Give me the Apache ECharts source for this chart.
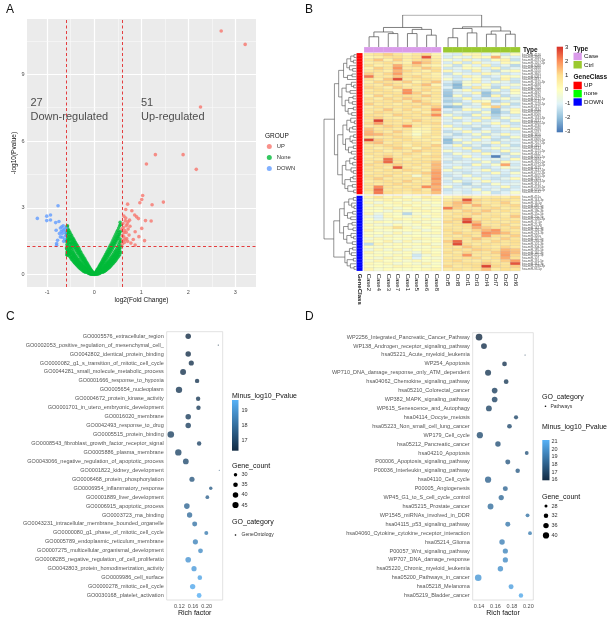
<!DOCTYPE html>
<html><head><meta charset="utf-8">
<script src="https://cdn.jsdelivr.net/npm/echarts@6/dist/echarts.min.js"></script>
<style>html,body{margin:0;padding:0;background:#fff}#c{width:607px;height:620px}</style>
</head><body><div id="c"></div>
<script>
// ================= Panel A : volcano =================
const volcanoXRange = [-1.43, 3.44];
const volcanoYRange = [-0.55, 11.48];
const volcanoXTicks = [-1, 0, 1, 2, 3];
const volcanoYTicks = [0, 3, 6, 9];
const volcanoXMinor = [-0.5, 0.5, 1.5, 2.5];
const volcanoYMinor = [1.5, 4.5, 7.5, 10.5];
const fcThreshold = [-0.585, 0.585];
const pThreshold = 1.301;
const upPoints = [[2.70,10.94],[3.21,10.34],[2.26,7.53],[1.30,5.39],[1.89,5.39],[1.11,4.97],[2.17,4.73],[1.03,3.56],[1.01,3.38],[0.97,3.23],[1.47,3.26],[1.23,3.14],[0.71,3.17],[0.80,2.87],[0.67,2.93],[0.86,2.68],[0.63,2.63],[0.90,2.60],[0.94,2.52],[1.09,2.43],[1.21,2.41],[0.75,2.45],[0.72,2.38],[0.66,2.42],[0.70,2.28],[0.68,2.20],[0.62,2.12],[0.76,2.18],[0.72,2.05],[0.65,1.98],[0.60,1.75],[0.63,1.70],[0.83,1.58],[0.68,1.90],[0.87,1.33],[1.07,1.53],[0.78,1.42],[0.61,1.55],[0.64,1.45],[0.69,1.62],[0.74,1.78],[0.61,2.30],[0.59,2.05],[0.66,1.58],[0.60,1.38],[0.71,1.50],[0.63,1.88],[0.67,2.55],[0.87,1.93],[0.95,1.71],[1.01,2.08]];
const downPoints = [[-1.21,2.53],[-1.01,2.63],[-0.93,2.68],[-0.93,2.46],[-1.01,2.43],[-0.77,3.10],[-0.82,2.34],[-0.75,2.39],[-0.81,2.00],[-0.72,2.10],[-0.69,2.15],[-0.66,2.20],[-0.70,1.95],[-0.74,1.85],[-0.68,1.85],[-0.64,2.05],[-0.72,1.70],[-0.68,1.68],[-0.78,1.55],[-0.80,1.40],[-0.62,1.90],[-0.63,1.60],[-0.65,1.50],[-0.61,1.75],[-0.66,2.00],[-0.60,2.10],[-0.80,1.32]];
const nonePoints = [
[-0.58,2.15],[-0.58,1.95],[-0.58,1.75],[-0.58,1.55],[-0.58,1.35],[-0.58,1.15],[-0.58,0.98],[-0.57,2.2],[-0.57,1.62],[-0.57,1.05],
[-0.56,2.05],[-0.56,1.8],[-0.56,1.55],[-0.56,1.3],[-0.56,1.05],[-0.55,1.9],[-0.55,1.42],[-0.55,0.95],
[-0.54,1.98],[-0.54,1.7],[-0.54,1.45],[-0.54,1.2],[-0.54,0.9],[-0.53,1.58],[-0.53,1.1],
[-0.52,1.9],[-0.52,1.6],[-0.52,1.35],[-0.52,1.05],[-0.52,0.82],[-0.51,1.72],[-0.51,1.2],[-0.51,0.95],
[-0.50,1.82],[-0.50,1.55],[-0.50,1.25],[-0.50,0.95],[-0.50,0.76],[-0.49,1.4],[-0.49,1.02],
[-0.48,1.75],[-0.48,1.45],[-0.48,1.15],[-0.48,0.88],[-0.48,0.7],[-0.47,1.6],[-0.47,1.25],[-0.47,0.78],
[-0.46,1.66],[-0.46,1.38],[-0.46,1.08],[-0.46,0.82],[-0.46,0.65],[-0.45,1.5],[-0.45,0.95],
[-0.44,1.6],[-0.44,1.3],[-0.44,1.0],[-0.44,0.75],[-0.44,0.6],[-0.43,1.42],[-0.43,0.86],
[-0.42,1.52],[-0.42,1.22],[-0.42,0.92],[-0.42,0.68],[-0.42,0.54],[-0.41,1.35],[-0.41,0.78],
[-0.40,1.45],[-0.40,1.15],[-0.40,0.85],[-0.40,0.6],[-0.40,0.5],[-0.39,1.25],[-0.39,0.7],
[-0.38,1.37],[-0.38,1.08],[-0.38,0.8],[-0.38,0.56],[-0.38,0.45],[-0.37,1.18],[-0.37,0.64],
[-0.36,1.3],[-0.36,1.0],[-0.36,0.72],[-0.36,0.5],[-0.36,0.41],[-0.35,1.12],[-0.35,0.6],
[-0.34,1.22],[-0.34,0.95],[-0.34,0.68],[-0.34,0.45],[-0.34,0.36],[-0.33,1.05],[-0.33,0.55],
[-0.32,1.15],[-0.32,0.88],[-0.32,0.62],[-0.32,0.42],[-0.32,0.32],[-0.31,0.98],[-0.31,0.5],
[-0.30,1.05],[-0.30,0.8],[-0.30,0.57],[-0.30,0.38],[-0.30,0.28],[-0.29,0.9],[-0.29,0.46],
[-0.28,0.98],[-0.28,0.74],[-0.28,0.52],[-0.28,0.34],[-0.28,0.25],[-0.27,0.84],[-0.27,0.42],
[-0.26,0.9],[-0.26,0.68],[-0.26,0.48],[-0.26,0.3],[-0.26,0.21],[-0.25,0.77],[-0.25,0.38],
[-0.24,0.84],[-0.24,0.62],[-0.24,0.42],[-0.24,0.26],[-0.24,0.18],[-0.23,0.7],[-0.23,0.34],
[-0.22,0.76],[-0.22,0.56],[-0.22,0.38],[-0.22,0.22],[-0.22,0.15],[-0.21,0.64],[-0.21,0.3],
[-0.20,0.7],[-0.20,0.5],[-0.20,0.33],[-0.20,0.2],[-0.20,0.13],[-0.19,0.58],[-0.19,0.26],
[-0.18,0.62],[-0.18,0.44],[-0.18,0.28],[-0.18,0.16],[-0.18,0.11],[-0.17,0.5],[-0.17,0.22],
[-0.16,0.55],[-0.16,0.38],[-0.16,0.24],[-0.16,0.13],[-0.15,0.45],[-0.15,0.19],
[-0.14,0.48],[-0.14,0.32],[-0.14,0.2],[-0.14,0.09],[-0.13,0.38],[-0.13,0.15],
[-0.12,0.4],[-0.12,0.27],[-0.12,0.16],[-0.12,0.07],[-0.11,0.3],[-0.11,0.11],
[-0.10,0.33],[-0.10,0.22],[-0.10,0.12],[-0.10,0.05],[-0.09,0.25],[-0.09,0.08],
[-0.08,0.26],[-0.08,0.17],[-0.08,0.09],[-0.08,0.03],[-0.07,0.19],[-0.07,0.06],
[-0.06,0.2],[-0.06,0.12],[-0.06,0.06],[-0.06,0.02],[-0.05,0.14],[-0.05,0.04],
[-0.04,0.13],[-0.04,0.08],[-0.04,0.03],[-0.03,0.09],[-0.03,0.02],[-0.02,0.07],[-0.02,0.03],[-0.01,0.03],[0.0,0.01],
[-0.59,1.2],[-0.59,1.5],[-0.59,1.85],[-0.58,0.9],[-0.57,0.88],
[0.01,0.03],[0.02,0.06],[0.02,0.02],[0.03,0.1],[0.03,0.04],[0.04,0.14],[0.04,0.08],[0.04,0.03],[0.05,0.16],[0.05,0.05],
[0.06,0.22],[0.06,0.13],[0.06,0.06],[0.06,0.02],[0.07,0.2],[0.07,0.07],[0.08,0.28],[0.08,0.18],[0.08,0.1],[0.08,0.04],[0.09,0.26],[0.09,0.08],
[0.10,0.36],[0.10,0.24],[0.10,0.13],[0.10,0.05],[0.11,0.32],[0.11,0.12],[0.12,0.43],[0.12,0.29],[0.12,0.17],[0.12,0.07],[0.13,0.4],[0.13,0.15],
[0.14,0.5],[0.14,0.34],[0.14,0.21],[0.14,0.1],[0.15,0.47],[0.15,0.19],[0.16,0.58],[0.16,0.4],[0.16,0.25],[0.16,0.13],[0.17,0.53],[0.17,0.23],
[0.18,0.66],[0.18,0.47],[0.18,0.3],[0.18,0.17],[0.18,0.11],[0.19,0.6],[0.19,0.27],[0.20,0.74],[0.20,0.53],[0.20,0.35],[0.20,0.21],[0.20,0.14],[0.21,0.67],[0.21,0.3],
[0.22,0.82],[0.22,0.6],[0.22,0.4],[0.22,0.24],[0.22,0.16],[0.23,0.74],[0.23,0.35],[0.24,0.9],[0.24,0.66],[0.24,0.45],[0.24,0.28],[0.24,0.19],[0.25,0.82],[0.25,0.4],
[0.26,0.97],[0.26,0.72],[0.26,0.5],[0.26,0.32],[0.26,0.22],[0.27,0.88],[0.27,0.44],[0.28,1.05],[0.28,0.79],[0.28,0.55],[0.28,0.36],[0.28,0.26],[0.29,0.95],[0.29,0.48],
[0.30,1.13],[0.30,0.86],[0.30,0.6],[0.30,0.4],[0.30,0.29],[0.31,1.02],[0.31,0.52],[0.32,1.22],[0.32,0.93],[0.32,0.66],[0.32,0.44],[0.32,0.33],[0.33,1.1],[0.33,0.57],
[0.34,1.3],[0.34,1.0],[0.34,0.72],[0.34,0.48],[0.34,0.37],[0.35,1.18],[0.35,0.62],[0.36,1.38],[0.36,1.07],[0.36,0.78],[0.36,0.53],[0.36,0.42],[0.37,1.25],[0.37,0.67],
[0.38,1.47],[0.38,1.15],[0.38,0.84],[0.38,0.58],[0.38,0.47],[0.39,1.33],[0.39,0.72],[0.40,1.56],[0.40,1.22],[0.40,0.9],[0.40,0.63],[0.40,0.51],[0.41,1.4],[0.41,0.78],
[0.42,1.65],[0.42,1.3],[0.42,0.97],[0.42,0.68],[0.42,0.56],[0.43,1.48],[0.43,0.84],[0.44,1.74],[0.44,1.38],[0.44,1.04],[0.44,0.74],[0.44,0.61],[0.45,1.56],[0.45,0.9],
[0.46,1.83],[0.46,1.46],[0.46,1.1],[0.46,0.8],[0.46,0.66],[0.47,1.65],[0.47,0.96],[0.48,1.92],[0.48,1.55],[0.48,1.18],[0.48,0.86],[0.48,0.72],[0.49,1.72],[0.49,1.02],
[0.50,2.0],[0.50,1.62],[0.50,1.26],[0.50,0.93],[0.50,0.78],[0.51,1.8],[0.51,1.1],[0.52,2.1],[0.52,1.72],[0.52,1.35],[0.52,1.0],[0.52,0.84],[0.53,1.9],[0.53,1.18],
[0.54,2.2],[0.54,1.82],[0.54,1.45],[0.54,1.08],[0.54,0.9],[0.55,2.35],[0.55,1.6],[0.55,1.2],[0.56,2.25],[0.56,1.95],[0.56,1.5],[0.56,1.0],[0.56,1.3]];

// ================= Panel B : heatmap =================
const caseNames = ['Case2','Case4','Case3','Case7','Case1','Case5','Case6','Case8'];
const ctrlNames = ['Ctrl5','Ctrl8','Ctrl1','Ctrl3','Ctrl4','Ctrl7','Ctrl2','Ctrl6'];
const upNames = ['hsa-miR-4516','hsa-miR-3960','hsa-miR-4787-5p','hsa-miR-1207-5p','hsa-miR-6088','hsa-miR-4466','hsa-miR-5100','hsa-miR-3665','hsa-miR-6087','hsa-miR-4497','hsa-miR-1915-3p','hsa-miR-4488','hsa-miR-7704','hsa-miR-6090','hsa-miR-4492','hsa-miR-3196','hsa-miR-6727-5p','hsa-miR-4739','hsa-miR-1228-5p','hsa-miR-6125','hsa-miR-4634','hsa-miR-6089','hsa-miR-8069','hsa-miR-1343-3p','hsa-miR-4741','hsa-miR-6800-5p','hsa-miR-4530','hsa-miR-4286','hsa-miR-5787','hsa-miR-3656','hsa-miR-4508','hsa-miR-6869-5p','hsa-miR-7107-5p','hsa-miR-4463','hsa-miR-6131','hsa-miR-1225-5p','hsa-miR-4442','hsa-miR-6765-5p','hsa-miR-4484','hsa-miR-3162-5p','hsa-miR-6724-5p','hsa-miR-4675','hsa-miR-1237-5p','hsa-miR-6722-3p','hsa-miR-4655-5p','hsa-miR-7975','hsa-miR-6803-5p','hsa-miR-3141','hsa-miR-4749-5p','hsa-miR-6756-5p','hsa-miR-4532'];
const downNames = ['hsa-miR-451a','hsa-miR-144-3p','hsa-miR-16-5p','hsa-miR-486-5p','hsa-miR-92a-3p','hsa-miR-19b-3p','hsa-miR-15a-5p','hsa-miR-20a-5p','hsa-miR-106a-5p','hsa-miR-17-5p','hsa-miR-25-3p','hsa-miR-142-3p','hsa-miR-126-3p','hsa-miR-223-3p','hsa-miR-320a','hsa-miR-150-5p','hsa-miR-26a-5p','hsa-miR-101-3p','hsa-miR-30d-5p','hsa-miR-185-5p','hsa-miR-140-3p','hsa-miR-425-5p','hsa-miR-107','hsa-miR-191-5p','hsa-miR-342-3p','hsa-miR-103a-3p','hsa-miR-93-5p'];
const upCase = [
[0.6,0.9,1.2,0.8,0.4,0.7,1.0,0.3],[0.3,0.5,0.9,1.0,0.6,0.8,2.6,0.5],[0.8,1.3,0.4,1.2,0.5,0.9,1.1,0.6],[0.5,0.7,1.0,0.6,0.4,1.8,1.3,0.8],
[1.0,0.4,0.6,1.6,0.8,1.2,0.5,0.3],[0.4,1.2,0.8,1.9,0.6,0.7,1.3,0.9],[0.7,0.9,0.5,1.5,1.1,0.8,0.4,1.0],[1.2,0.6,1.1,1.8,0.7,0.5,0.9,0.4],
[2.2,0.8,0.7,1.3,0.9,1.1,0.6,0.5],[0.9,0.5,1.3,2.7,0.6,0.8,1.0,0.7],[0.5,1.1,0.9,0.7,1.2,0.4,0.8,1.3],[0.8,0.6,1.2,0.9,0.5,1.0,1.4,0.3],
[1.1,0.9,0.5,1.2,0.8,0.6,0.9,1.0],[0.6,1.0,0.8,0.5,1.9,0.7,1.1,0.6],[0.9,0.7,1.0,0.8,2.0,1.2,0.5,0.9],[0.4,1.2,0.6,1.0,0.9,0.8,1.3,0.7],
[1.0,0.5,1.1,0.7,1.3,1.0,0.6,0.8],[0.7,0.9,0.8,1.1,0.6,1.4,0.9,0.5],[1.2,0.6,0.9,0.5,1.0,0.7,1.2,1.0],[0.5,1.0,0.7,0.9,0.8,1.1,0.6,1.2],
[0.8,0.7,1.3,0.6,1.1,0.5,0.9,1.9],[0.6,1.1,0.9,0.8,0.7,1.0,0.5,1.2],[1.0,0.8,0.6,1.2,0.9,0.7,1.1,2.0],[0.9,1.2,0.7,0.5,1.0,0.8,0.6,0.9],
[0.7,2.8,1.0,0.9,0.6,1.2,0.8,0.7],[1.1,1.8,0.8,0.7,1.0,0.6,0.9,1.1],[0.6,0.9,1.2,1.0,2.0,0.8,0.5,0.7],[1.3,0.7,0.9,0.6,0.8,0.2,0.4,1.0],
[1.5,1.0,0.6,1.2,0.7,0.1,0.3,0.8],[1.6,1.5,1.1,0.8,0.5,-0.2,0.6,0.9],[0.8,0.6,0.7,1.1,0.9,0.4,0.8,0.5],[2.8,1.2,0.9,0.7,1.0,0.6,0.5,0.9],
[1.2,1.4,0.6,1.0,0.7,0.9,0.8,0.4],[0.6,0.8,1.1,0.9,0.4,1.0,0.7,1.2],[0.9,0.5,0.8,1.2,1.0,0.3,1.1,0.8],[0.7,1.0,0.5,0.8,0.6,1.2,0.9,1.0],
[1.0,0.7,0.9,0.6,1.1,0.8,0.4,0.9],[0.5,0.9,1.2,0.7,0.8,0.6,1.0,1.1],[0.8,0.6,2.3,1.0,0.5,0.9,0.7,0.8],[0.6,1.1,2.4,0.8,0.9,0.7,1.0,1.3],
[1.1,0.8,0.9,1.2,0.7,1.0,0.6,1.5],[0.7,1.0,0.6,2.6,0.8,0.5,0.9,1.4],[0.9,0.6,1.0,0.7,1.1,0.9,0.5,1.6],[0.6,0.9,0.7,1.0,0.5,0.8,1.2,1.8],
[1.0,0.7,1.1,0.6,0.9,-0.3,0.8,1.7],[0.8,1.2,0.6,0.9,0.7,1.0,0.6,1.9],[0.5,0.8,1.0,0.7,1.2,0.6,0.9,1.6],[0.9,0.6,0.8,1.1,0.6,0.9,0.7,1.8],
[0.7,2.0,0.9,0.6,1.0,0.7,2.0,1.5],[1.0,2.4,0.7,0.9,0.8,1.1,0.6,1.7],[0.6,2.2,1.0,0.8,0.6,0.9,0.8,1.4]];
const upCtrl = [
[-0.9,-1.1,0.2,0.3,-1.0,-0.2,-1.2,0.1],[-1.1,-0.3,-0.9,0.2,0.1,1.6,-0.4,-1.0],[-0.2,-1.0,0.3,-0.9,-1.2,0.1,0.4,-1.3],[-1.1,0.2,-1.2,0.3,-0.8,-1.0,0.2,-0.2],
[-0.3,-1.3,-0.2,-1.0,0.3,-1.2,-0.8,-1.5],[-1.2,-0.8,0.1,-0.2,-1.1,0.2,-1.3,-0.9],[0.2,-1.0,-1.2,0.4,-0.8,-1.4,-0.3,0.1],[-1.3,-0.2,-0.9,-1.1,0.2,-0.5,-1.2,-1.0],
[-0.8,-1.2,0.3,-0.3,-1.3,-1.0,0.1,-0.2],[-0.2,-1.1,-1.0,0.1,-0.9,-1.3,0.4,-1.2],[-1.1,-1.6,-0.3,0.3,-1.0,-0.2,-0.8,-1.3],[-1.4,-2.1,-0.2,-0.9,0.1,-1.2,-1.0,-0.3],
[-1.0,-2.0,-1.2,0.6,-0.3,-1.5,0.1,-1.1],[-1.6,-0.8,0.1,-1.1,-1.3,-0.2,-1.2,0.2],[-1.8,-1.1,-0.9,0.2,-1.9,-1.3,-1.0,-0.1],[-1.9,-0.2,-1.3,-1.0,-1.8,0.2,-1.4,-0.8],
[-1.4,-1.2,0.1,-1.2,-0.8,-1.1,-0.2,-1.3],[-1.7,-1.5,-1.0,0.2,-0.1,-1.6,-1.2,-0.8],[-1.2,-0.2,-1.3,-0.8,1.0,-1.0,0.1,-1.4],[-2.0,-1.8,-0.8,-1.1,0.1,1.2,-1.3,-1.0],
[-1.0,-1.3,0.1,-0.2,-1.2,-1.9,-0.8,0.2],[-1.3,-0.8,-1.1,-1.3,-0.2,-2.0,-1.4,0.1],[-0.2,-1.2,-1.4,0.1,-1.1,-1.6,-1.0,-1.2],[-1.1,0.1,-0.9,-1.2,0.2,-1.4,-0.2,-1.0],
[-0.8,-1.3,-1.0,0.2,-1.2,-0.8,-1.3,-0.2],[-1.2,-1.0,-0.2,-1.1,-0.8,0.1,-1.0,-1.3],[0.1,-1.2,-1.3,-0.8,-1.4,-1.0,0.2,-1.1],[-1.0,-0.2,-1.1,-1.5,-1.0,-1.2,-0.8,0.1],
[-1.4,-1.1,0.1,-1.0,-0.2,-1.3,-1.1,-1.2],[-0.8,-1.5,-1.2,-0.2,-1.3,-0.8,0.1,-1.0],[-1.3,-1.0,-0.8,-1.2,0.1,-1.1,-1.4,-0.2],[-2.0,-0.2,-1.1,0.1,-1.0,-1.4,-0.8,-1.2],
[-1.9,-1.3,-0.2,-1.1,-0.8,0.2,-1.2,-1.0],[-1.0,0.1,-1.3,-0.8,-1.5,-1.1,-0.2,-1.4],[-1.2,-1.1,0.2,-1.3,-1.0,-0.2,-1.1,-0.8],[-0.2,-1.0,-1.2,0.3,-1.3,-1.2,0.1,-1.1],
[-1.3,-0.2,-0.8,-1.1,0.1,-1.0,-1.4,-0.2],[-1.1,-1.2,0.1,-1.0,-1.2,-2.8,-0.8,-1.3],[-0.8,-1.3,-1.1,-0.2,-1.0,-0.8,-1.2,0.1],[-1.3,-0.8,-1.0,-1.2,-0.2,-1.3,0.2,-1.0],
[-1.0,-1.1,-1.3,0.1,-1.1,-0.2,1.7,-1.2],[-1.2,-0.2,-0.8,-1.1,-1.3,-1.0,-0.2,-0.8],[-0.2,-1.2,-1.1,-0.8,0.1,-1.2,-1.0,-1.3],[-1.1,-0.8,-1.3,-1.0,-1.2,0.1,-1.1,-0.2],
[-1.3,-1.0,-0.2,-1.2,-0.8,-1.1,-1.3,-1.0],[-0.8,-1.3,-1.0,-0.2,-1.1,-1.3,-0.8,0.1],[-1.2,-0.2,-1.2,-1.0,0.1,-1.0,-1.2,-1.1],[-1.0,-1.1,-1.6,-0.8,-1.3,-0.2,-1.0,-0.8],
[-0.2,-1.2,-0.8,-1.3,-1.0,-1.1,0.1,-1.2],[-1.3,-1.0,-1.1,-0.2,-1.2,-0.8,-1.3,-1.0],[-1.1,-0.8,-1.2,-1.0,-0.2,-1.3,-1.0,-0.2]];
const downCase = [
[0.3,0.8,0.2,0.5,-0.2,0.1,0.6,0.2],[-0.3,0.2,0.4,-0.1,0.3,-0.4,0.1,0.3],[0.2,-0.5,0.1,0.3,-0.2,0.2,-0.3,0.0],[-0.4,0.3,-0.2,0.1,0.4,-0.1,0.2,-0.3],
[0.1,-0.2,0.3,-0.4,0.0,0.3,-0.2,0.2],[-0.2,0.0,-0.5,0.2,-0.3,0.1,0.3,-0.1],[0.3,-0.6,0.1,-0.2,-1.5,-0.3,0.0,0.2],[-0.5,-1.0,0.2,0.0,-0.3,0.2,-0.4,0.1],
[0.0,-0.8,-0.3,0.3,0.1,-0.2,0.2,-0.4],[-0.3,0.2,0.0,-0.5,-0.1,0.3,-0.2,0.0],[0.2,-0.4,-0.6,0.1,-0.3,-0.1,0.3,-0.2],[-0.1,0.1,0.3,1.0,0.2,-0.4,0.0,0.3],
[0.4,-0.3,-0.1,-0.2,0.0,0.2,-0.5,-0.1],[-0.2,0.0,-0.4,0.3,-0.5,-0.2,0.1,0.2],[0.1,-0.5,0.2,-0.3,0.1,0.0,-0.3,-0.4],[-0.4,0.2,-0.2,0.0,-0.2,0.3,0.2,0.0],
[0.2,-0.1,0.4,-0.5,0.3,-0.4,-0.1,0.1],[-1.4,0.3,-0.3,0.2,-0.2,0.1,0.4,-0.3],[0.0,-0.3,0.1,-0.1,0.2,-0.3,-0.2,0.3],[-0.6,0.2,-0.4,0.3,-0.4,0.0,0.1,-0.2],
[0.3,-0.2,0.0,-0.3,0.1,-0.5,0.3,0.0],[-0.2,0.1,-0.3,0.2,-0.1,-1.2,-0.4,0.2],[0.1,-0.4,0.3,-0.2,0.3,-1.0,0.0,-0.3],[-0.3,0.3,-0.1,0.1,-0.3,0.2,-0.2,0.1],
[0.2,-0.1,0.2,-0.4,0.0,-0.3,0.3,-0.2],[-0.1,0.0,-0.2,0.3,0.2,0.1,-0.3,0.0],[0.3,-0.3,0.1,-0.1,-0.2,0.0,0.2,0.3]];
const downCtrl = [
[0.2,0.5,0.8,0.4,0.6,0.7,0.5,1.0],[0.6,0.9,2.6,1.1,0.8,1.0,0.9,0.7],[1.0,1.4,1.8,0.9,0.6,0.8,1.2,0.5],[0.9,1.3,0.7,1.5,1.0,0.6,0.9,1.1],
[2.2,1.2,0.8,0.7,0.9,1.1,0.6,0.8],[0.8,0.6,1.2,0.9,1.3,0.7,1.0,0.6],[0.6,1.0,0.9,1.2,0.7,0.8,0.5,0.9],[0.9,0.7,1.1,0.6,0.8,1.0,0.7,1.3],
[0.7,1.1,2.4,0.8,1.0,0.6,0.9,0.7],[1.1,0.8,2.8,1.4,0.7,0.9,0.6,1.0],[0.6,0.9,1.0,2.0,0.8,0.7,1.1,0.6],[0.8,0.7,0.9,1.6,1.2,0.9,0.8,1.1],
[1.0,0.8,0.6,1.1,1.5,1.9,1.0,0.7],[0.7,1.2,0.9,0.8,2.0,1.8,1.4,0.9],[0.9,0.6,1.1,0.7,1.8,1.0,0.8,1.2],[0.6,1.0,0.8,1.3,0.9,0.7,1.2,0.8],
[1.2,2.4,0.7,0.9,0.6,1.1,0.8,1.0],[0.8,2.7,1.0,0.6,1.0,0.8,0.7,0.9],[0.9,0.7,1.3,1.0,0.8,0.6,1.1,0.7],[0.7,1.0,0.8,1.2,1.1,0.9,1.5,1.3],
[1.0,0.6,1.1,0.8,0.7,1.2,1.7,1.4],[0.6,0.9,1.9,0.7,0.9,0.8,1.8,1.1],[0.8,0.7,0.9,1.1,0.6,1.0,1.6,0.9],[0.9,1.1,0.7,0.6,1.0,0.7,1.2,1.8],
[0.7,0.8,1.0,0.9,1.3,0.9,0.8,2.6],[1.1,0.6,0.8,1.0,2.8,1.1,0.9,1.2],[0.6,0.9,0.7,0.8,1.4,0.6,1.0,0.8]];
// dendrograms: [height, left, right]; leaves are row / column indices
const upTree = [68,
  [55,[40,[30,[18,[8,0,1],[10,2,3]],[22,4,[12,5,6]]],[28,[14,7,8],9]],
      [45,[32,[16,10,[9,11,12]],[20,13,14]],[35,[24,[11,15,16],[13,17,18]],[26,[10,19,20],[15,21,22]]]]],
  [58,[42,[30,[18,23,[7,24,25]],[22,[12,26,27],28]],[34,[20,[9,29,30],[14,31,32]],[25,[10,33,34],[16,35,36]]]],
      [44,[33,[21,[8,37,38],[12,39,40]],[17,41,[10,42,43]]],[36,[19,[11,44,45],46],[27,[13,47,48],[9,49,50]]]]]];
const downTree = [70,
  [52,[38,[24,[10,0,1],[15,2,[8,3,4]]],[28,[12,5,6],[18,7,8]]],
      [40,[26,[14,9,10],[11,11,12]],[30,[17,13,[9,14,15]],[13,16,17]]]],
  [36,[22,[12,18,19],[16,20,21]],[29,[10,22,23],[19,24,[8,25,26]]]]];
const rowRootHeight = 100;
const colTree = [100,
  [61,[47,[32,0,1],[42,2,3]],[55,[42,4,5],[37,6,7]]],
  [63,[58,[29,8,9],[44,10,11]],[50,[40,12,13],[40,14,15]]]];
const heatLegendTicks = [3,2,1,0,-1,-2,-3];

// ================= Panel C : GO enrichment =================
const cTerms = ['GO0005576_extracellular_region','GO0002053_positive_regulation_of_mesenchymal_cell_','GO0042802_identical_protein_binding','GO0000082_g1_s_transition_of_mitotic_cell_cycle','GO0044281_small_molecule_metabolic_process','GO0001666_response_to_hypoxia','GO0005654_nucleoplasm','GO0004672_protein_kinase_activity','GO0001701_in_utero_embryonic_development','GO0016020_membrane','GO0042493_response_to_drug','GO0005515_protein_binding','GO0008543_fibroblast_growth_factor_receptor_signal','GO0005886_plasma_membrane','GO0043066_negative_regulation_of_apoptotic_process','GO0001822_kidney_development','GO0006468_protein_phosphorylation','GO0006954_inflammatory_response','GO0001889_liver_development','GO0006915_apoptotic_process','GO0003723_rna_binding','GO0043231_intracellular_membrane_bounded_organelle','GO0000080_g1_phase_of_mitotic_cell_cycle','GO0005789_endoplasmic_reticulum_membrane','GO0007275_multicellular_organismal_development','GO0008285_negative_regulation_of_cell_proliferatio','GO0042803_protein_homodimerization_activity','GO0009986_cell_surface','GO0000278_mitotic_cell_cycle','GO0030168_platelet_activation'];
const cRich = [0.146,0.234,0.146,0.155,0.131,0.172,0.119,0.175,0.176,0.146,0.146,0.095,0.178,0.117,0.139,0.237,0.157,0.212,0.202,0.142,0.150,0.165,0.199,0.167,0.182,0.146,0.163,0.180,0.159,0.178];
const cCount = [40,26,40,38,43,34,46,34,34,40,40,48,34,46,42,26,38,30,31,41,39,37,32,38,36,41,38,35,39,36];
const cPval = [16.35,16.4,16.45,16.5,16.55,16.6,16.65,16.7,16.75,16.8,16.85,16.9,16.95,17.0,17.15,17.3,17.45,17.6,17.7,17.8,17.95,18.15,18.35,18.55,18.75,18.95,19.1,19.3,19.45,19.6];
const cXTicks = [0.12,0.16,0.20];
const cColorTicks = [17,18,19];
const cSizeLegend = [30,35,40,45];

// ================= Panel D : pathway enrichment =================
const dTerms = ['WP2256_Integrated_Pancreatic_Cancer_Pathway','WP138_Androgen_receptor_signaling_pathway','hsa05221_Acute_myeloid_leukemia','WP254_Apoptosis','WP710_DNA_damage_response_only_ATM_dependent','hsa04062_Chemokine_signaling_pathway','hsa05210_Colorectal_cancer','WP382_MAPK_signaling_pathway','WP615_Senescence_and_Autophagy','hsa04114_Oocyte_meiosis','hsa05223_Non_small_cell_lung_cancer','WP179_Cell_cycle','hsa05212_Pancreatic_cancer','hsa04210_Apoptosis','P00006_Apoptosis_signaling_pathway','P00036_Interleukin_signaling_pathway','hsa04110_Cell_cycle','P00005_Angiogenesis','WP45_G1_to_S_cell_cycle_control','hsa05215_Prostate_cancer','WP1545_miRNAs_involved_in_DDR','hsa04115_p53_signaling_pathway','hsa04060_Cytokine_cytokine_receptor_interaction','hsa05214_Glioma','P00057_Wnt_signaling_pathway','WP707_DNA_damage_response','hsa05220_Chronic_myeloid_leukemia','hsa05200_Pathways_in_cancer','hsa05218_Melanoma','hsa05219_Bladder_cancer'];
const dRich = [0.140,0.146,0.196,0.171,0.151,0.173,0.159,0.159,0.152,0.185,0.177,0.141,0.163,0.198,0.175,0.187,0.151,0.172,0.167,0.154,0.199,0.175,0.202,0.168,0.172,0.172,0.166,0.139,0.179,0.191];
const dCount = [42,38,26,33,39,33,37,37,38,31,33,40,36,30,34,32,40,34,35,38,30,34,30,36,35,35,36,42,34,32];
const dPval = [16.0,16.2,16.3,16.4,16.5,16.6,16.8,16.9,17.0,17.1,17.2,17.3,17.5,17.6,17.8,17.9,18.1,18.3,18.4,18.6,18.8,19.0,19.2,19.3,19.5,19.7,19.9,20.2,20.5,20.8];
const dXTicks = [0.14,0.16,0.18,0.20];
const dColorTicks = [21,20,19,18,17,16];
const dSizeLegend = [28,32,36,40];

// ================= build =================
const FONT = 'Liberation Sans';
const heatColors = ['#4575B4','#91BFDB','#E0F3F8','#FFFFBF','#FEE090','#FC8D59','#D73027'];
const rowGap = 0.75, colGap = 0.24;
const rowTotal = upNames.length + downNames.length + rowGap;
const colTotal = caseNames.length + ctrlNames.length + colGap;

function shiftTree(n, k) { return typeof n === 'number' ? n + k : [n[0], shiftTree(n[1], k), shiftTree(n[2], k)]; }
function layoutTree(n, leafPos, out) {
  if (typeof n === 'number') return { p: leafPos(n), h: 0 };
  const L = layoutTree(n[1], leafPos, out), R = layoutTree(n[2], leafPos, out);
  out.push([[L.p, L.h], [L.p, n[0]], [R.p, n[0]], [R.p, R.h]]);
  return { p: (L.p + R.p) / 2, h: n[0] };
}
const rowSegs = [];
layoutTree([rowRootHeight, upTree, shiftTree(downTree, upNames.length)],
  i => i < upNames.length ? i + 0.5 : i + 0.5 + rowGap, rowSegs);
const colSegs = [];
layoutTree(colTree, i => i < caseNames.length ? i + 0.5 : i + 0.5 + colGap, colSegs);

function heatData(mat) {
  const out = [];
  mat.forEach((row, r) => row.forEach((v, c) => out.push([c, r, v])));
  return out;
}
function sizeFn(cmin, cmax) { return c => 1.1 * (1 + 5 * Math.sqrt(Math.max(0, c - cmin) / (cmax - cmin))); }
const cSize = sizeFn(26, 48), dSize = sizeFn(26, 42);
const fmt2 = v => Number(v).toFixed(2);

const grids = [
  { left: 27, top: 19, width: 229, height: 268, show: false }, // 0 volcano (panel background drawn by graphic rect)
  { left: 364.3, top: 53.3, width: 76.7, height: 140.7 },  // 1
  { left: 443.3, top: 53.3, width: 76.7, height: 140.7 },  // 2
  { left: 364.3, top: 196, width: 76.7, height: 74.7 },    // 3
  { left: 443.3, top: 196, width: 76.7, height: 74.7 },    // 4
  { left: 356.8, top: 53.3, width: 5.5, height: 140.7 },   // 5 geneclass up
  { left: 356.8, top: 196, width: 5.5, height: 74.7 },     // 6 geneclass down
  { left: 364.3, top: 47.3, width: 76.7, height: 5 },      // 7 type case
  { left: 443.3, top: 47.3, width: 76.7, height: 5 },      // 8 type ctrl
  { left: 324, top: 53.3, width: 32.6, height: 217.4 },    // 9 row dendro
  { left: 364.3, top: 15, width: 155.7, height: 32 },      // 10 col dendro
  { left: 166.7, top: 331.7, width: 56, height: 268.3, show: true, backgroundColor: '#fff', borderColor: '#D9D9D9', borderWidth: 0.8 }, // 11 C
  { left: 472.7, top: 332.7, width: 60.6, height: 267.3, show: true, backgroundColor: '#fff', borderColor: '#D9D9D9', borderWidth: 0.8 } // 12 D
];
const hidCat = (g, data, inv) => ({ type: 'category', gridIndex: g, data, inverse: !!inv, show: false });
const tickLab = { fontSize: 5.5, color: '#4D4D4D', fontFamily: FONT };
const xAxes = [
  { type: 'value', gridIndex: 0, min: volcanoXRange[0], max: volcanoXRange[1], name: 'log2(Fold Change)', nameLocation: 'middle', nameGap: 8,
    nameTextStyle: { fontSize: 6.5, color: '#111', fontFamily: FONT },
    axisLine: { show: false }, splitLine: { show: false },
    axisTick: { show: true, length: 2, lineStyle: { color: '#333', width: 0.6 }, customValues: volcanoXTicks },
    axisLabel: Object.assign({ margin: 2.5, customValues: volcanoXTicks }, tickLab) },
  hidCat(1, caseNames), hidCat(2, ctrlNames),
  { type: 'category', gridIndex: 3, data: caseNames, axisLine: { show: false }, axisTick: { show: false },
    axisLabel: { interval: 0, rotate: -90, fontSize: 6, margin: 3, color: '#111', fontFamily: FONT } },
  { type: 'category', gridIndex: 4, data: ctrlNames, axisLine: { show: false }, axisTick: { show: false },
    axisLabel: { interval: 0, rotate: -90, fontSize: 6, margin: 3, color: '#111', fontFamily: FONT } },
  hidCat(5, ['GeneClass']),
  { type: 'category', gridIndex: 6, data: ['GeneClass'], axisLine: { show: false }, axisTick: { show: false },
    axisLabel: { interval: 0, rotate: -90, fontSize: 6, margin: 3, color: '#111', fontWeight: 'bold', fontFamily: FONT } },
  hidCat(7, caseNames), hidCat(8, ctrlNames),
  { type: 'value', gridIndex: 9, min: 0, max: 100, inverse: true, show: false },
  { type: 'value', gridIndex: 10, min: 0, max: colTotal, show: false },
  { type: 'value', gridIndex: 11, min: 0.083, max: 0.247, name: 'Rich factor', nameLocation: 'middle', nameGap: 10,
    nameTextStyle: { fontSize: 7, color: '#111', fontFamily: FONT }, splitLine: { show: false },
    axisLine: { show: false }, axisTick: { length: 2, lineStyle: { color: '#666', width: 0.6 }, customValues: cXTicks },
    axisLabel: Object.assign({ margin: 3, customValues: cXTicks, formatter: fmt2 }, tickLab) },
  { type: 'value', gridIndex: 12, min: 0.1323, max: 0.206, name: 'Rich factor', nameLocation: 'middle', nameGap: 10,
    nameTextStyle: { fontSize: 7, color: '#111', fontFamily: FONT }, splitLine: { show: false },
    axisLine: { show: false }, axisTick: { length: 2, lineStyle: { color: '#666', width: 0.6 }, customValues: dXTicks },
    axisLabel: Object.assign({ margin: 3, customValues: dXTicks, formatter: fmt2 }, tickLab) }
];
const yAxes = [
  { type: 'value', gridIndex: 0, min: volcanoYRange[0], max: volcanoYRange[1], name: '-log10(Pvalue)', nameLocation: 'middle', nameRotate: 90, nameGap: 9,
    nameTextStyle: { fontSize: 6.5, color: '#111', fontFamily: FONT },
    axisLine: { show: false }, splitLine: { show: false },
    axisTick: { show: true, length: 2, lineStyle: { color: '#333', width: 0.6 }, customValues: volcanoYTicks },
    axisLabel: Object.assign({ margin: 2.5, customValues: volcanoYTicks }, tickLab) },
  hidCat(1, upNames, true),
  { type: 'category', gridIndex: 2, data: upNames, inverse: true, position: 'right', axisLine: { show: false }, axisTick: { show: false },
    axisLabel: { interval: 0, fontSize: 3, margin: 2, color: '#555', fontFamily: FONT } },
  hidCat(3, downNames, true),
  { type: 'category', gridIndex: 4, data: downNames, inverse: true, position: 'right', axisLine: { show: false }, axisTick: { show: false },
    axisLabel: { interval: 0, fontSize: 3, margin: 2, color: '#555', fontFamily: FONT } },
  hidCat(5, upNames, true), hidCat(6, downNames, true),
  hidCat(7, ['Type']),
  { type: 'category', gridIndex: 8, data: ['Type'], position: 'right', axisLine: { show: false }, axisTick: { show: false },
    axisLabel: { fontSize: 6.5, margin: 3, color: '#111', fontWeight: 'bold', fontFamily: FONT } },
  { type: 'value', gridIndex: 9, min: 0, max: rowTotal, inverse: true, show: false },
  { type: 'value', gridIndex: 10, min: 0, max: 100, show: false },
  { type: 'category', gridIndex: 11, data: cTerms, inverse: true, axisLine: { show: false },
    axisTick: { length: 2, lineStyle: { color: '#777', width: 0.6 } },
    axisLabel: { interval: 0, fontSize: 5.5, margin: 3, color: '#555', fontFamily: FONT } },
  { type: 'category', gridIndex: 12, data: dTerms, inverse: true, axisLine: { show: false },
    axisTick: { length: 2, lineStyle: { color: '#777', width: 0.6 } },
    axisLabel: { interval: 0, fontSize: 5.5, margin: 3, color: '#555', fontFamily: FONT } }
];

// background grid lines of panel A as data-space segments
const vSeg = v => ({ coords: [[v, volcanoYRange[0]], [v, volcanoYRange[1]]] });
const hSeg = v => ({ coords: [[volcanoXRange[0], v], [volcanoXRange[1], v]] });
const majorSegs = volcanoXTicks.map(vSeg).concat(volcanoYTicks.map(hSeg));
const minorSegs = volcanoXMinor.map(vSeg).concat(volcanoYMinor.map(hSeg));
const threshSegs = fcThreshold.map(vSeg).concat([hSeg(pThreshold)]);

const heatBase = { type: 'heatmap', itemStyle: { borderColor: 'rgba(190,190,190,0.55)', borderWidth: 0.4 }, emphasis: { disabled: true }, silent: true, progressive: 0 };
const annBorder = { borderColor: 'rgba(255,255,255,0.3)', borderWidth: 0.3 };
const series = [
  { name: 'None', type: 'scatter', xAxisIndex: 0, yAxisIndex: 0, data: nonePoints, symbolSize: 3.6, z: 10, itemStyle: { color: '#00BA38' }, silent: true },
  { name: 'DOWN', type: 'scatter', xAxisIndex: 0, yAxisIndex: 0, data: downPoints, symbolSize: 3.6, z: 10, itemStyle: { color: '#619CFF' }, silent: true },
  { name: 'UP', type: 'scatter', xAxisIndex: 0, yAxisIndex: 0, data: upPoints, symbolSize: 3.6, z: 10, itemStyle: { color: '#F8766D' }, silent: true },
  Object.assign({ xAxisIndex: 1, yAxisIndex: 1, data: heatData(upCase) }, heatBase),
  Object.assign({ xAxisIndex: 2, yAxisIndex: 2, data: heatData(upCtrl) }, heatBase),
  Object.assign({ xAxisIndex: 3, yAxisIndex: 3, data: heatData(downCase) }, heatBase),
  Object.assign({ xAxisIndex: 4, yAxisIndex: 4, data: heatData(downCtrl) }, heatBase),
  Object.assign({}, heatBase, { xAxisIndex: 5, yAxisIndex: 5, data: upNames.map((n, r) => [0, r, 0]), itemStyle: annBorder }),
  Object.assign({}, heatBase, { xAxisIndex: 6, yAxisIndex: 6, data: downNames.map((n, r) => [0, r, 1]), itemStyle: annBorder }),
  Object.assign({}, heatBase, { xAxisIndex: 7, yAxisIndex: 7, data: caseNames.map((n, c) => [c, 0, 2]), itemStyle: annBorder }),
  Object.assign({}, heatBase, { xAxisIndex: 8, yAxisIndex: 8, data: ctrlNames.map((n, c) => [c, 0, 3]), itemStyle: annBorder }),
  { type: 'lines', coordinateSystem: 'cartesian2d', xAxisIndex: 9, yAxisIndex: 9, polyline: true, silent: true,
    data: rowSegs.map(s => ({ coords: s.map(p => [p[1], p[0]]) })), lineStyle: { color: '#4a4a4a', width: 0.6, opacity: 1 } },
  { type: 'lines', coordinateSystem: 'cartesian2d', xAxisIndex: 10, yAxisIndex: 10, polyline: true, silent: true,
    data: colSegs.map(s => ({ coords: s })), lineStyle: { color: '#4a4a4a', width: 0.7, opacity: 1 } },
  { type: 'scatter', xAxisIndex: 11, yAxisIndex: 11, silent: true,
    data: cTerms.map((t, i) => [cRich[i], i, cPval[i], cCount[i]]), symbolSize: v => cSize(v[3]) },
  { type: 'scatter', xAxisIndex: 12, yAxisIndex: 12, silent: true,
    data: dTerms.map((t, i) => [dRich[i], i, dPval[i], dCount[i]]), symbolSize: v => dSize(v[3]) },
  { type: 'lines', coordinateSystem: 'cartesian2d', xAxisIndex: 0, yAxisIndex: 0, z: 8, silent: true,
    data: majorSegs, lineStyle: { color: '#FFFFFF', width: 1.2, opacity: 1, type: 'solid' } },
  { type: 'lines', coordinateSystem: 'cartesian2d', xAxisIndex: 0, yAxisIndex: 0, z: 8, silent: true,
    data: minorSegs, lineStyle: { color: '#FAFAFA', width: 0.6, opacity: 1, type: 'solid' } },
  { type: 'lines', coordinateSystem: 'cartesian2d', xAxisIndex: 0, yAxisIndex: 0, z: 12, silent: true,
    data: threshSegs, lineStyle: { color: '#E3292B', width: 0.9, opacity: 1, type: [3, 2.5] } }
];

const visualMap = [
  { type: 'continuous', show: false, min: -3, max: 3, seriesIndex: [3, 4, 5, 6], inRange: { color: heatColors } },
  { type: 'piecewise', show: false, seriesIndex: [7, 8, 9, 10], dimension: 2,
    pieces: [{ value: 0, color: '#FF0000' }, { value: 1, color: '#0000FF' }, { value: 2, color: '#DA9BEA' }, { value: 3, color: '#9BC92E' }] },
  { type: 'continuous', show: false, min: 16.3, max: 19.67, dimension: 2, seriesIndex: [13], inRange: { color: ['#132B43', '#56B1F7'] } },
  { type: 'continuous', show: false, min: 15.95, max: 21.2, dimension: 2, seriesIndex: [14], inRange: { color: ['#132B43', '#56B1F7'] } }
];

// ---------- legends / annotations (graphic) ----------
const G = [];
const txt = (x, y, text, size, opts) => G.push(Object.assign({ type: 'text', x, y, silent: true, z: 100,
  style: Object.assign({ text, fontSize: size, fontFamily: FONT, fill: '#111', align: 'left', verticalAlign: 'middle' }, opts || {}) }));
const rect = (x, y, w, h, fill, z) => G.push({ type: 'rect', silent: true, z: z === undefined ? 100 : z, shape: { x, y, width: w, height: h }, style: { fill } });
const dot = (cx, cy, d, fill) => G.push({ type: 'circle', silent: true, z: 100, shape: { cx, cy, r: d / 2 }, style: { fill } });

rect(27, 19, 229, 268, '#EBEBEB', -10);
txt(6, 10, 'A', 12); txt(305, 10, 'B', 12); txt(6, 317, 'C', 12); txt(305, 317, 'D', 12);
txt(30.5, 103, '27', 11, { fill: '#4D4D4D' }); txt(30.5, 117, 'Down-regulated', 11, { fill: '#4D4D4D' });
txt(141, 103, '51', 11, { fill: '#4D4D4D' }); txt(141, 117, 'Up-regulated', 11, { fill: '#4D4D4D' });
txt(265, 136.5, 'GROUP', 6.5);
rect(556.7, 46.7, 6.3, 85.6, new echarts.graphic.LinearGradient(0, 0, 0, 1,
  heatColors.slice().reverse().map((c, i) => ({ offset: i / 6, color: c }))));
heatLegendTicks.forEach(v => txt(565, 47.7 + (3 - v) * 13.9, String(v), 6, { fill: '#222' }));
txt(573.5, 49.2, 'Type', 6.5, { fontWeight: 'bold' });
rect(573.5, 52.7, 8.3, 7.5, '#DA9BEA'); txt(584, 56.5, 'Case', 6.2);
rect(573.5, 61, 8.3, 7.5, '#9BC92E'); txt(584, 64.8, 'Ctrl', 6.2);
txt(573.5, 77.7, 'GeneClass', 6.5, { fontWeight: 'bold' });
rect(573.5, 81.7, 8.3, 7.6, '#FF0000'); txt(584, 85.5, 'UP', 6.2);
rect(573.5, 90, 8.3, 7.4, '#00FF00'); txt(584, 93.7, 'none', 6.2);
rect(573.5, 98.3, 8.3, 7.4, '#0000FF'); txt(584, 102, 'DOWN', 6.2);
txt(232, 395.7, 'Minus_log10_Pvalue', 7);
rect(232, 400, 6.5, 50.7, new echarts.graphic.LinearGradient(0, 0, 0, 1, [{ offset: 0, color: '#56B1F7' }, { offset: 1, color: '#132B43' }]));
cColorTicks.forEach(v => txt(241.5, 450.7 - (v - 16.3) * 15, String(v), 5.5, { fill: '#333' }));
txt(232, 465.7, 'Gene_count', 7);
cSizeLegend.forEach((c, i) => { const y = 474.7 + i * 10.1; dot(235.5, y, cSize(c), '#000'); txt(241.5, y, String(c), 5.5, { fill: '#333' }); });
txt(232, 521.7, 'GO_category', 7);
dot(235.5, 535, 1.6, '#000'); txt(241.5, 535, 'GeneOntology', 5, { fill: '#333' });
txt(542, 396.7, 'GO_category', 7);
dot(545.5, 406.3, 1.6, '#000'); txt(550.5, 406.3, 'Pathways', 5, { fill: '#333' });
txt(542, 427, 'Minus_log10_Pvalue', 7);
rect(542.3, 440, 7.2, 40.3, new echarts.graphic.LinearGradient(0, 0, 0, 1, [{ offset: 0, color: '#56B1F7' }, { offset: 1, color: '#132B43' }]));
dColorTicks.forEach(v => txt(551.5, 480 - (v - 15.95) * 7.6, String(v), 5.5, { fill: '#333' }));
txt(542, 497, 'Gene_count', 7);
dSizeLegend.forEach((c, i) => { const y = 506 + i * 9.8; dot(546, y, dSize(c), '#000'); txt(551.5, y, String(c), 5.5, { fill: '#333' }); });

const chart = echarts.init(document.getElementById('c'), null, { renderer: 'canvas' });
chart.setOption({
  animation: false,
  backgroundColor: '#FFFFFF',
  textStyle: { fontFamily: FONT },
  grid: grids, xAxis: xAxes, yAxis: yAxes, series, visualMap,
  legend: { data: ['UP', 'None', 'DOWN'], orient: 'vertical', left: 266.8, top: 143.5, padding: 0, itemWidth: 5, itemHeight: 5, itemGap: 5,
    icon: 'circle', selectedMode: false, textStyle: { fontSize: 5.8, color: '#333', fontFamily: FONT } },
  graphic: G
});
</script>
</body></html>
